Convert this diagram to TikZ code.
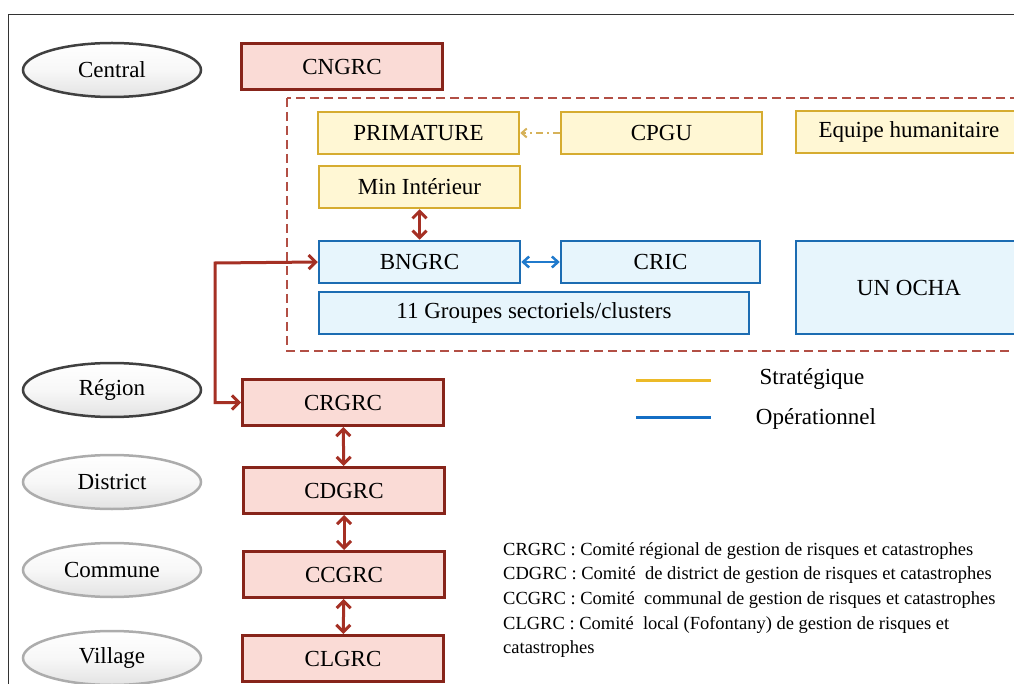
\documentclass[tikz,border=0pt]{standalone}
\usepackage{fontspec}
\setmainfont{Liberation Serif}
\usetikzlibrary{arrows.meta}
\usetikzlibrary{shapes.geometric}

\definecolor{rouge}{RGB}{135,36,26}
\definecolor{rose}{RGB}{250,219,214}
\definecolor{dore}{RGB}{214,172,48}
\definecolor{jaune}{RGB}{255,247,212}
\definecolor{bleu}{RGB}{28,108,178}
\definecolor{ciel}{RGB}{231,245,252}
\definecolor{brique}{RGB}{165,48,36}
\definecolor{azur}{RGB}{32,122,204}
\definecolor{sable}{RGB}{214,178,90}

\begin{document}
\begin{tikzpicture}[x=1pt,y=-1pt,
	niveau/.style={ellipse, draw=black!75, line width=2.5pt, top color=white, bottom color=gray!22, middle color=gray!6,
		minimum width=178pt, minimum height=54pt, inner sep=0pt, font=\fontsize{23}{26}\selectfont},
	niveau clair/.style={niveau, draw=gray!65},
	comite/.style={rectangle, draw=rouge, line width=3pt, fill=rose, minimum width=201pt, minimum height=46pt,
		inner sep=0pt, font=\fontsize{23}{26}\selectfont},
	strat/.style={comite, draw=dore, fill=jaune, line width=2.5pt, minimum width=201pt, minimum height=42pt},
	oper/.style={comite, draw=bleu, fill=ciel, line width=2.5pt, minimum width=201pt, minimum height=42pt},
	lien/.style={{Straight Barb[length=7pt,width=14pt]}-{Straight Barb[length=7pt,width=14pt]}, draw=brique, line width=3pt},
	legende/.style={font=\fontsize{23}{26}\selectfont},
	]

		\useasboundingbox (0,0) rectangle (1014,684);

		\coordinate (Coin) at (215,263);

		\draw [black!80, line width=1pt] (1030,15) -- (8,15) -- (8,700);
		\draw [brique!85, line width=1.5pt, dash pattern=on 9pt off 5pt] (287,98) rectangle (1030,351);

		% niveaux
		\node [niveau] (central) at (112,70) {Central};
		\node [niveau] (region) at (112,390) {Région};
		\node [niveau clair] (district) at (112,482) {District};
		\node [niveau clair] (commune) at (112,570) {Commune};
		\node [niveau clair] (village) at (112,658) {Village};

		% comites
		\node [comite] (CNGRC) at (342,67) {CNGRC};
		\node [comite] (CRGRC) at (343,402.5) {CRGRC};
		\node [comite] (CDGRC) at (344,490.5) {CDGRC};
		\node [comite] (CCGRC) at (344,574.5) {CCGRC};
		\node [comite] (CLGRC) at (343,658.5) {CLGRC};

		\node [strat] (PRIM) at (418.5,133) {PRIMATURE};
		\node [strat] (CPGU) at (661.5,133) {CPGU};
		\node [strat, minimum width=226pt] (EH) at (909,132) {Equipe humanitaire};
		\node [strat] (MI) at (419.5,187) {Min Intérieur};

		\node [oper] (BNGRC) at (419.5,262) {BNGRC};
		\node [oper, minimum width=199pt] (CRIC) at (660.5,262) {CRIC};
		\node [oper, minimum width=430pt] (GS) at (534,313) {11 Groupes sectoriels/clusters};
		\node [oper, minimum width=226pt, minimum height=93pt] (OCHA) at (909,287.5) {UN OCHA};

		\draw [lien] (MI) -- (BNGRC);
		\draw [{Straight Barb[length=6pt,width=11pt]}-{Straight Barb[length=6pt,width=11pt]}, draw=azur, line width=2.5pt] (BNGRC) -- (CRIC);
		\draw [-{Straight Barb[length=5pt,width=9pt]}, draw=sable, line width=2pt, dash pattern=on 7pt off 4pt on 2pt off 4pt] (CPGU) -- (PRIM);
		\draw [lien] (BNGRC.west) -- (Coin) |- (CRGRC.west);

		\draw [lien] (CRGRC) -- (CDGRC);
		\draw [lien] (CDGRC) -- (CCGRC);
		\draw [lien] (CCGRC) -- (CLGRC);

		% legende
		\coordinate (S1) at (636,380);
		\coordinate (S2) at (711,380);
		\coordinate (O1) at (636,417);
		\coordinate (O2) at (711,417);
		\draw [line width=3pt, draw={rgb,255:red,236;green,186;blue,40}] (S1) -- (S2);
		\draw [line width=3pt, draw={rgb,255:red,20;green,110;blue,196}] (O1) -- (O2);
		\node [legende] (strategique) at (812,379) {Stratégique};
		\node [legende] (operationnel) at (816,419) {Opérationnel};

		\node [anchor=north west, align=left, inner sep=0pt, font=\fontsize{18.5}{24.7}\selectfont] (sigles) at (503,542)
			{CRGRC : Comité régional de gestion de risques et catastrophes\\
			CDGRC : Comité\ \ de district de gestion de risques et catastrophes\\
			CCGRC : Comité\ \ communal de gestion de risques et catastrophes\\
			CLGRC : Comité\ \ local (Fofontany) de gestion de risques et\\
			catastrophes};

\end{tikzpicture}
\end{document}
